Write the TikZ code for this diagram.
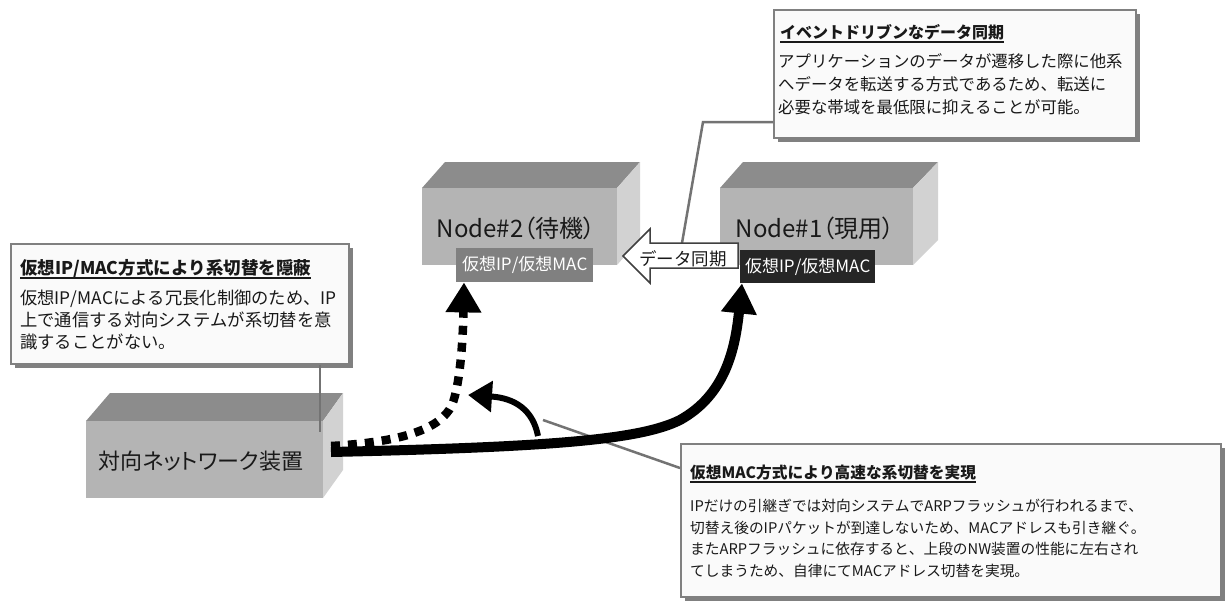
\documentclass[tikz,border=0pt]{standalone}
\usepackage{fontspec}
\setmainfont{Noto Sans CJK JP}[Kerning=Off]
\newfontfamily\pfont{Noto Sans CJK JP}[RawFeature=+palt]
\usetikzlibrary{arrows.meta,shadows}
\definecolor{boxfront}{RGB}{180,180,180}
\definecolor{boxtop}{RGB}{140,140,140}
\definecolor{boxside}{RGB}{210,210,210}
\definecolor{calloutline}{RGB}{128,128,128}
\definecolor{calloutfill}{RGB}{250,250,250}
\definecolor{shadowgray}{RGB}{128,128,128}
\definecolor{leadgray}{RGB}{115,115,115}
\definecolor{labstandby}{RGB}{128,128,128}
\definecolor{labactive}{RGB}{38,38,38}
\definecolor{inktext}{RGB}{25,25,25}
\begin{document}
\begin{tikzpicture}[x=1pt,y=-1pt,
  frontface/.style={fill=boxfront, inner sep=0pt, anchor=north west},
  boxtext/.style={font=\pfont\fontsize{24pt}{27pt}\selectfont, text=inktext, inner sep=0pt, anchor=base},
  iplabel/.style={inner sep=0pt, anchor=north west, text=white, font=\fontsize{17pt}{19pt}\selectfont},
  callout/.style={draw=calloutline, line width=2pt, fill=calloutfill, anchor=north west, inner sep=0pt,
    drop shadow={shadow xshift=4pt, shadow yshift=-4pt, fill=shadowgray, opacity=1}},
  title/.style={anchor=base west, inner sep=0pt, text=inktext},
  bodyline/.style={anchor=base west, inner sep=0pt, text=inktext},
  underl/.style={line width=1.2pt, draw=inktext},
  leader/.style={draw=leadgray, line width=2.5pt},
  flow/.style={line width=10pt, -{Triangle[length=30pt,width=34pt]}},
  syncarrow/.style={fill=white, draw=black!75, line width=1.5pt, line join=miter}
]
\useasboundingbox (0,0) rectangle (1225,600);
\fill[white] (0,0) rectangle (1225,600);

% Node#2 (standby)
\fill[boxtop] (422,188) -- (445,162) -- (640,162) -- (617,188) -- cycle;
\fill[boxside] (617,188) -- (640,162) -- (640,239) -- (617,265) -- cycle;
\node[frontface, minimum width=195pt, minimum height=77pt] (n2) at (422,188) {};
\node[boxtext] (n2t) at (516,237) {Node\#2（待機）};

% Node#1 (active)
\fill[boxtop] (720,188) -- (743,162) -- (938,162) -- (913,188) -- cycle;
\fill[boxside] (913,188) -- (938,162) -- (938,240) -- (913,265) -- cycle;
\node[frontface, minimum width=193pt, minimum height=77pt] (n1) at (720,188) {};
\node[boxtext] (n1t) at (815,237) {Node\#1（現用）};

% counterpart network device
\fill[boxtop] (86,421) -- (110,393) -- (343,393) -- (323,421) -- cycle;
\fill[boxside] (323,421) -- (343,393) -- (343,470) -- (323,498) -- cycle;
\node[frontface, minimum width=237pt, minimum height=77pt] (cp) at (86,421) {};
\node[boxtext, font=\pfont\fontsize{22pt}{26pt}\selectfont] (cpt) at (201,469) {対向ネットワーク装置};

% virtual IP/MAC labels
\node[iplabel, fill=labstandby, minimum width=137pt, minimum height=34pt] (lab2) at (456,248) {仮想IP/仮想MAC};
\node[iplabel, fill=labactive, minimum width=135pt, minimum height=33pt] (lab1) at (740,250) {仮想IP/仮想MAC};

% callout 1
\node[callout, minimum width=362pt, minimum height=128pt] (c1) at (773,9) {};
\node[title, font=\bfseries\fontsize{16pt}{18pt}\selectfont] (c1t) at (780,38) {イベントドリブンなデータ同期};
\draw[underl] ([yshift=-4pt]c1t.base west) -- ([yshift=-4pt]c1t.base east);
\begin{scope}[every node/.append style={font=\fontsize{16.4pt}{18pt}\selectfont}]
\node[bodyline] (c1a) at (778,67) {アプリケーションのデータが遷移した際に他系};
\node[bodyline] (c1b) at (778,90) {へデータを転送する方式であるため、転送に};
\node[bodyline] (c1c) at (778,113) {必要な帯域を最低限に抑えることが可能。};
\end{scope}

% callout 2
\node[callout, minimum width=338pt, minimum height=120pt] (c2) at (10,243) {};
\node[title, font=\bfseries\fontsize{17.5pt}{19pt}\selectfont] (c2t) at (20,274) {仮想IP/MAC方式により系切替を隠蔽};
\draw[underl] ([yshift=-4pt]c2t.base west) -- ([yshift=-4pt]c2t.base east);
\begin{scope}[every node/.append style={font=\fontsize{17.3pt}{19pt}\selectfont}]
\node[bodyline] (c2a) at (20,304) {仮想IP/MACによる冗長化制御のため、IP};
\node[bodyline] (c2b) at (20,326) {上で通信する対向システムが系切替を意};
\node[bodyline] (c2c) at (20,348) {識することがない。};
\end{scope}

% callout 3
\node[callout, minimum width=540pt, minimum height=153pt] (c3) at (680,443) {};
\node[title, font=\bfseries\fontsize{15.7pt}{18pt}\selectfont] (c3t) at (690,478) {仮想MAC方式により高速な系切替を実現};
\draw[underl] ([yshift=-4pt]c3t.base west) -- ([yshift=-4pt]c3t.base east);
\begin{scope}[every node/.append style={font=\fontsize{14.7pt}{17pt}\selectfont}]
\node[bodyline] (c3a) at (690,511) {IPだけの引継ぎでは対向システムでARPフラッシュが行われるまで、};
\node[bodyline] (c3b) at (690,533) {切替え後のIPパケットが到達しないため、MACアドレスも引き継ぐ。};
\node[bodyline] (c3c) at (690,554) {またARPフラッシュに依存すると、上段のNW装置の性能に左右され};
\node[bodyline] (c3d) at (690,576) {てしまうため、自律にてMACアドレス切替を実現。};
\end{scope}

% leaders
\coordinate (k1) at (703,122);
\coordinate (synctop) at (682,243);
\draw[leader] (c1.west |- k1) -- (k1) -- (synctop);
\coordinate (k2) at (320,432);
\draw[leader] (c2.south -| k2) -- (k2);
\coordinate (k3) at (543,420);
\draw[leader] (k3) -- ([yshift=-25pt]c3.north west);

% data sync block arrow
\filldraw[syncarrow] (623,256) -- (650,229) -- (650,243) -- (738,243) -- (738,268) -- (650,268) -- (650,283) -- cycle;
\node[anchor=base, inner sep=0pt, font=\fontsize{17.5pt}{19pt}\selectfont, text=inktext] (sync) at (683,265) {データ同期};

% flows
\coordinate (s1) at (331,452);
\coordinate (s2) at (331,446);
\draw[flow] (s1) .. controls (550,447) and (640,440) .. (680,420) .. controls (725,395) and (735,350) .. ([xshift=2pt]lab1.south west);
\draw[flow, line width=8.5pt, dash pattern=on 9pt off 8pt] (s2) .. controls (400,442) and (440,430) .. (452,405) .. controls (460,385) and (463,340) .. ([xshift=8pt]lab2.south west);
\coordinate (sw1) at (538,436);
\coordinate (sw2) at (468,395);
\draw[line width=6pt, -{Triangle[length=24pt,width=30pt]}] (sw1) .. controls (533,410) and (515,398) .. (sw2);
\end{tikzpicture}
\end{document}
